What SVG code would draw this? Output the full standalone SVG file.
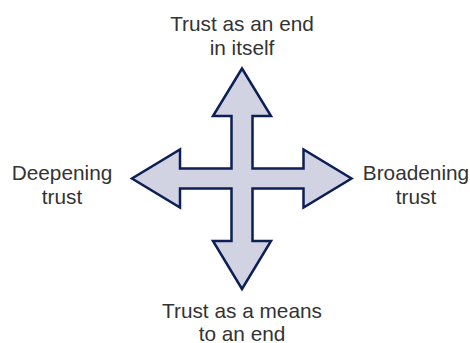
<svg xmlns="http://www.w3.org/2000/svg" width="470" height="343" viewBox="0 0 470 343">
  <style>
    .label { font-family: "Liberation Sans", Arial, sans-serif; font-size: 20.8px; fill: #333333; text-anchor: middle; }
    .cross { fill: #d1d3e3; stroke: #0d1f55; stroke-width: 2.5; stroke-linejoin: miter; }
  </style>
  <rect width="470" height="343" fill="#ffffff"/>
  <g id="connectors">
    <!-- four-way arrow centred at (242,178.5) -->
    <path class="cross" d="M242,68.5 L271,116 L252.5,116 L252.5,168.5 L303.5,168.5 L303.5,149.5 L351.5,178.5 L303.5,207.5 L303.5,188.5 L252.5,188.5 L252.5,241 L271,241 L242,289 L213,241 L231.5,241 L231.5,188.5 L180,188.5 L180,207.5 L132,178.5 L180,149.5 L180,168.5 L231.5,168.5 L231.5,116 L213,116 Z"/>
  </g>
  <g id="node-top">
    <text class="label" x="242" y="30.5">Trust as an end</text>
    <text class="label" x="242" y="54.5">in itself</text>
  </g>
  <g id="node-left">
    <text class="label" x="62" y="179.5">Deepening</text>
    <text class="label" x="62" y="203.5">trust</text>
  </g>
  <g id="node-right">
    <text class="label" x="416" y="179.5">Broadening</text>
    <text class="label" x="416" y="203.5">trust</text>
  </g>
  <g id="node-bottom">
    <text class="label" x="242" y="317.5">Trust as a means</text>
    <text class="label" x="242" y="340.5">to an end</text>
  </g>
</svg>
